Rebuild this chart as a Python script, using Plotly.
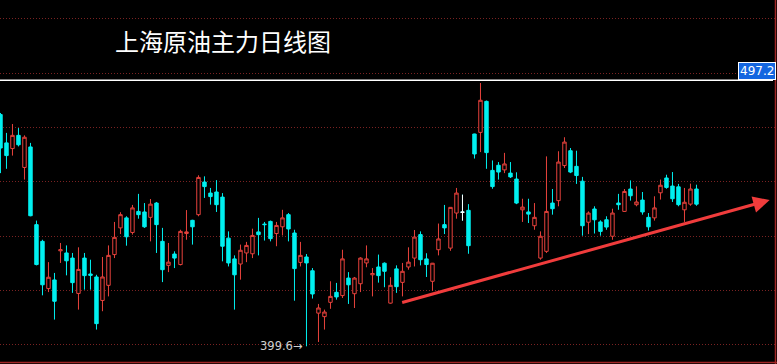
import plotly.graph_objects as go

# ---- data (prices) ----
open_ = [485.5, 475.0, 472.9, 477.8, 465.9, 473.5, 444.7, 438.5, 421.0, 424.2,
         435.0, 434.2, 432.3, 419.2, 432.3, 426.4, 425.3, 416.6, 422.2, 433.6,
         443.5, 447.2, 441.8, 449.6, 449.4, 447.4, 452.7, 438.5, 429.6, 433.8,
         429.9, 441.4, 446.3, 448.4, 460.5, 456.4, 456.8, 454.9, 439.7, 432.0,
         430.1, 434.2, 433.9, 442.0, 444.9, 445.9, 441.4, 443.9, 448.4, 441.6,
         430.7, 432.7, 427.6, 411.9, 410.6, 415.9, 419.6, 418.4, 424.9, 419.1,
         422.8, 430.5, 426.1, 429.0, 430.4, 415.6, 428.3, 423.3, 429.0, 432.3,
         441.0, 432.0, 423.7, 435.4, 444.7, 436.0, 449.0, 449.3, 450.0, 478.3,
         478.9, 490.4, 464.8, 466.7, 465.0, 463.8, 461.6, 450.2, 449.4, 444.3,
         432.3, 434.8, 452.7, 453.6, 466.6, 472.1, 466.3, 460.8, 445.6, 450.5,
         445.7, 446.5, 440.4, 452.7, 449.6, 457.9, 452.1, 453.8, 447.4, 447.2,
         456.5, 462.0, 459.0, 458.7, 450.2, 452.3, 457.9]
high = [486.1, 478.7, 482.0, 480.5, 477.8, 475.0, 446.2, 439.1, 430.8, 426.8,
        437.9, 437.0, 434.2, 436.3, 434.2, 431.7, 426.1, 432.7, 437.0, 445.7,
        449.3, 447.8, 452.0, 456.1, 452.7, 454.2, 453.1, 443.5, 437.9, 434.8,
        442.8, 450.1, 446.5, 463.0, 462.6, 458.3, 461.2, 456.4, 442.2, 433.3,
        437.3, 438.3, 443.2, 447.2, 445.7, 446.2, 445.7, 450.2, 449.0, 442.8,
        438.3, 433.8, 428.6, 415.3, 413.2, 423.7, 423.1, 435.4, 427.1, 425.3,
        432.6, 437.0, 428.6, 433.6, 430.7, 425.2, 429.6, 430.5, 436.3, 442.7,
        442.2, 434.1, 430.5, 445.1, 452.0, 451.1, 458.3, 455.8, 452.3, 478.4,
        497.2, 490.7, 468.5, 467.9, 471.3, 467.9, 464.1, 454.3, 454.3, 452.7,
        442.2, 470.0, 457.9, 471.9, 477.1, 473.1, 472.1, 462.4, 449.6, 451.5,
        446.3, 447.8, 450.6, 456.1, 457.9, 461.1, 458.9, 456.8, 449.0, 455.2,
        461.4, 463.2, 464.2, 459.8, 458.3, 459.9, 459.5]
low = [463.8, 465.4, 470.3, 473.7, 461.4, 447.8, 429.6, 418.5, 419.7, 409.5,
       430.5, 425.9, 419.4, 413.2, 420.6, 420.6, 405.8, 412.6, 418.1, 432.3,
       441.2, 436.9, 441.0, 446.9, 443.5, 438.5, 434.2, 423.4, 427.1, 428.6,
       429.6, 439.1, 437.3, 447.8, 454.6, 452.1, 449.4, 431.1, 429.2, 413.2,
       424.3, 430.8, 432.3, 433.3, 438.8, 438.5, 436.7, 440.7, 438.5, 416.5,
       429.2, 399.6, 417.3, 401.2, 405.8, 413.5, 416.9, 417.5, 415.3, 413.8,
       419.7, 428.9, 418.1, 423.2, 421.5, 415.4, 419.4, 418.1, 428.0, 429.2,
       429.6, 425.3, 420.2, 433.3, 441.2, 435.0, 446.9, 446.2, 433.9, 469.2,
       471.6, 465.4, 458.0, 461.4, 463.8, 462.0, 452.3, 445.7, 445.3, 442.8,
       431.7, 434.2, 448.4, 451.5, 465.7, 463.8, 459.8, 440.6, 441.2, 441.4,
       440.6, 442.8, 439.1, 450.2, 449.4, 453.6, 451.5, 448.4, 442.5, 446.2,
       454.0, 458.0, 453.1, 451.5, 445.7, 451.7, 451.7]
close = [473.1, 470.3, 477.8, 474.3, 477.1, 448.0, 429.9, 422.4, 425.2, 416.3,
         435.4, 431.3, 423.2, 428.1, 425.8, 425.9, 408.0, 425.3, 433.3, 440.0,
         448.4, 440.2, 450.9, 448.4, 443.9, 452.3, 444.7, 428.0, 430.8, 432.3,
         442.2, 442.0, 443.9, 462.2, 458.8, 455.1, 452.1, 436.7, 430.5, 426.1,
         435.2, 437.0, 440.7, 441.0, 444.7, 439.5, 444.4, 447.2, 443.1, 428.4,
         433.3, 430.5, 419.0, 413.8, 412.3, 418.1, 417.9, 432.0, 422.4, 424.9,
         432.3, 432.0, 426.6, 425.8, 427.4, 422.2, 421.7, 427.4, 430.8, 440.1,
         431.7, 429.9, 430.4, 439.4, 443.5, 451.1, 456.4, 449.3, 436.9, 470.9,
         490.8, 471.4, 458.8, 464.2, 467.2, 462.4, 452.7, 451.2, 448.6, 447.4,
         440.4, 449.6, 450.6, 467.9, 475.3, 464.2, 462.9, 444.3, 449.0, 446.5,
         442.2, 443.8, 449.0, 452.1, 457.0, 455.4, 453.1, 449.4, 443.9, 450.9,
         459.3, 458.5, 454.3, 452.1, 453.0, 457.9, 452.3]

title_text = "上海原油主力日线图"
top_label = "497.2"
low_label = "399.6"
low_index = 51
doji_index = 77
# trend line endpoints (bar index, price)
trend_start = (66.7, 415.7)
trend_end = (128.2, 453.8)

# ---- styling ----
UP = "#E8423C"
DOWN = "#00F0F0"
GRID = "#7A2222"
BG = "#000000"

x = list(range(len(open_)))

fig = go.Figure()
fig.add_trace(go.Candlestick(
    x=x, open=open_, high=high, low=low, close=close,
    increasing=dict(line=dict(color=UP, width=1), fillcolor=BG),
    decreasing=dict(line=dict(color=DOWN, width=1), fillcolor=DOWN),
    whiskerwidth=0, hoverinfo="skip",
))
fig.add_trace(go.Candlestick(
    x=[x[doji_index]], open=[open_[doji_index]], high=[high[doji_index]],
    low=[low[doji_index]], close=[close[doji_index]],
    increasing=dict(line=dict(color="white", width=1), fillcolor="white"),
    decreasing=dict(line=dict(color="white", width=1), fillcolor="white"),
    whiskerwidth=0, hoverinfo="skip",
))

W, H = 777, 364
px_per_bar = 6.0
price_per_px = 0.3707
y_top = 399.6 + 346.3 * price_per_px
y_bot = 399.6 - (H - 346.3) * price_per_px

fig.update_layout(
    width=W, height=H, margin=dict(l=0, r=0, t=0, b=0),
    paper_bgcolor=BG, plot_bgcolor=BG, showlegend=False,
    boxgap=0.18,
    xaxis=dict(range=[-0.08, W / px_per_bar - 0.08], showgrid=False, zeroline=False,
               showticklabels=False, ticks="", rangeslider=dict(visible=False),
               fixedrange=True),
    yaxis=dict(range=[y_bot, y_top], showgrid=True, gridcolor=GRID, griddash="1px,2px",
               gridwidth=1, tick0=420.36, dtick=20.13, zeroline=False,
               showticklabels=False, ticks="", fixedrange=True),
)

# frame lines
fig.add_shape(type="line", xref="paper", yref="paper", x0=0, x1=773 / W,
              y0=1 - 80.3 / H, y1=1 - 80.3 / H, line=dict(color="white", width=1.5))
fig.add_shape(type="line", xref="paper", yref="paper", x0=0, x1=1,
              y0=1 - 362.5 / H, y1=1 - 362.5 / H, line=dict(color="#A02525", width=1.5))
fig.add_shape(type="line", xref="paper", yref="paper", x0=775.5 / W, x1=775.5 / W,
              y0=0, y1=1, line=dict(color="#A02525", width=1.5))

# trend arrow
fig.add_annotation(x=trend_end[0], y=trend_end[1], ax=trend_start[0], ay=trend_start[1],
                   xref="x", yref="y", axref="x", ayref="y", showarrow=True,
                   arrowhead=2, arrowsize=1.1, arrowwidth=3, arrowcolor="#F03C3C",
                   standoff=0, text="")

# title
fig.add_annotation(text=title_text, xref="paper", yref="paper", x=113 / W, y=1 - 40 / H,
                   xanchor="left", yanchor="middle", showarrow=False,
                   font=dict(family="Noto Sans CJK SC", size=24, color="white"))

# top price label
fig.add_annotation(text=top_label, xref="paper", yref="paper", x=775.5 / W, y=1 - 71 / H,
                   xanchor="right", yanchor="middle", showarrow=False,
                   bgcolor="#1466E0", bordercolor="white", borderwidth=1, borderpad=1,
                   font=dict(family="DejaVu Sans", size=12, color="white"))

# low label
fig.add_annotation(text=low_label + "→", x=x[low_index], y=low[low_index],
                   xref="x", yref="y", xanchor="right", yanchor="middle",
                   showarrow=False, xshift=-1,
                   font=dict(family="DejaVu Sans", size=11.5, color="#D0D0D0"))

fig.write_html("out.html", config={"displayModeBar": False},
               post_script="document.body.style.margin='0';document.body.style.background='black';")
